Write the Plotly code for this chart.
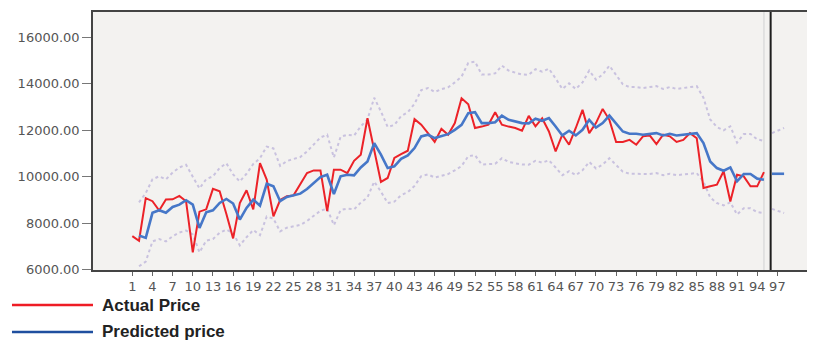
import plotly.graph_objects as go

# ---- data ----
index = list(range(1, 96))

actual_price = [7450, 7250, 9080, 8950, 8550, 9020, 9030, 9180, 8950, 6750,
                8500, 8600, 9480, 9380, 8400, 7350, 8870, 9420, 8600, 10590,
                9880, 8300, 9000, 9160, 9200, 9660, 10160, 10275, 10275, 8520,
                10305, 10305, 10160, 10690, 10950, 12520, 11100, 9780, 9950, 10810,
                10980, 11120, 12480, 12240, 11880, 11500, 12060, 11810, 12310, 13380,
                13120, 12100, 12160, 12240, 12780, 12240, 12160, 12100, 11980, 12620,
                12170, 12520, 11950, 11090, 11810, 11380, 12100, 12880, 11880, 12310,
                12920, 12450, 11500, 11500, 11590, 11380, 11740, 11780, 11410, 11810,
                11740, 11500, 11590, 11880, 11660, 9520, 9590, 9660, 10240, 8940,
                10090, 10020, 9590, 9590, 10200]

predicted_price = [None, 7470, 7370, 8450, 8560, 8450, 8700, 8800, 8990, 8800,
                   7800, 8475, 8560, 8875, 9045, 8850, 8160, 8660, 9020, 8760,
                   9700, 9590, 8950, 9130, 9190, 9275, 9475, 9735, 9990, 10090,
                   9260, 10020, 10090, 10060, 10400, 10660, 11450, 10950, 10375, 10450,
                   10775, 10920, 11235, 11735, 11810, 11665, 11765, 11835, 12020, 12235,
                   12735, 12780, 12310, 12310, 12350, 12635, 12450, 12380, 12310, 12300,
                   12500, 12410, 12525, 12165, 11780, 11980, 11780, 12020, 12450, 12120,
                   12310, 12635, 12310, 11950, 11850, 11850, 11810, 11835, 11880, 11780,
                   11850, 11780, 11810, 11835, 11880, 11450, 10660, 10375, 10260, 10405,
                   9805, 10120, 10120, 9920, 9875]

upper_bound = [None, 8900, 9300, 9890, 10020, 9890, 10180, 10400, 10520, 10000,
               9500, 9900, 10020, 10380, 10580, 10100, 9800, 10130, 10550, 10800,
               11300, 11220, 10470, 10680, 10750, 10850, 11090, 11390, 11690, 11810,
               10830, 11720, 11810, 11770, 12170, 12470, 13400, 12810, 12140, 12230,
               12610, 12780, 13140, 13730, 13820, 13650, 13770, 13850, 14060, 14310,
               14900, 14950, 14400, 14400, 14450, 14780, 14570, 14480, 14400, 14390,
               14630, 14520, 14650, 14230, 13780, 14020, 13780, 14060, 14570, 14180,
               14400, 14780, 14400, 13980, 13860, 13860, 13820, 13850, 13900, 13780,
               13860, 13780, 13820, 13850, 13900, 13400, 12470, 12140, 12000, 12170,
               11470, 11840, 11840, 11610, 11550]

lower_bound = [None, 6150, 6350, 7220, 7320, 7220, 7440, 7600, 7690, 7520,
               6750, 7250, 7320, 7590, 7730, 7570, 7050, 7400, 7710, 7490,
               8290, 8200, 7650, 7810, 7860, 7930, 8100, 8320, 8540, 8630,
               7920, 8570, 8630, 8600, 8890, 9110, 9790, 9360, 8870, 8930,
               9210, 9340, 9610, 10030, 10100, 9970, 10060, 10120, 10280, 10460,
               10890, 10930, 10530, 10530, 10560, 10800, 10640, 10580, 10530, 10520,
               10690, 10610, 10710, 10400, 10070, 10240, 10070, 10280, 10640, 10360,
               10530, 10800, 10530, 10220, 10130, 10130, 10100, 10120, 10160, 10070,
               10130, 10070, 10100, 10120, 10160, 9790, 9110, 8870, 8770, 8900,
               8380, 8650, 8650, 8480, 8440]

forecast_x = [96.2, 98.0]
forecast_pred = [10130, 10130]
forecast_upper = [11880, 12100]
forecast_lower = [8620, 8440]

forecast_start = 96
x_tick_vals = [1, 4, 7, 10, 13, 16, 19, 22, 25, 28, 31, 34, 37, 40, 43, 46, 49,
               52, 55, 58, 61, 64, 67, 70, 73, 76, 79, 82, 85, 88, 91, 94, 97]
y_tick_vals = [6000, 8000, 10000, 12000, 14000, 16000]

RED = "#ec2228"
BLUE = "#4677c8"
BOUND = "#c9c2df"

fig = go.Figure()
for yv in (upper_bound, lower_bound):
    fig.add_trace(go.Scatter(x=index, y=yv, mode="lines", showlegend=False,
                             line=dict(color=BOUND, width=2, dash="dot")))
for yv in (forecast_upper, forecast_lower):
    fig.add_trace(go.Scatter(x=forecast_x, y=yv, mode="lines", showlegend=False,
                             line=dict(color=BOUND, width=2, dash="dot")))
fig.add_trace(go.Scatter(x=index, y=actual_price, mode="lines", name="Actual Price",
                         showlegend=False, line=dict(color=RED, width=2)))
fig.add_trace(go.Scatter(x=index, y=predicted_price, mode="lines", name="Predicted price",
                         showlegend=False, line=dict(color=BLUE, width=2.6)))
fig.add_trace(go.Scatter(x=forecast_x, y=forecast_pred, mode="lines", showlegend=False,
                         line=dict(color=BLUE, width=2.6)))

# faint line at last observation and black forecast-origin line
fig.add_vline(x=index[-1], line=dict(color="#dcdcdc", width=1.5), layer="below")
fig.add_vline(x=forecast_start, line=dict(color="#1e1e1e", width=2))

# manual legend below the plot (plot area: 722 px wide, 258 px high)
legend_items = [("Actual Price", "#ee1c25", -0.1357), ("Predicted price", "#1f4f9f", -0.2403)]
for label, col, yp in legend_items:
    fig.add_shape(type="line", xref="paper", yref="paper", x0=-0.1122, x1=0.0, y0=yp, y1=yp,
                  line=dict(color=col, width=2.6))
    fig.add_annotation(text="<b>%s</b>" % label, xref="paper", yref="paper", x=0.0097, y=yp,
                       xanchor="left", yanchor="middle", showarrow=False,
                       font=dict(family="Liberation Sans, Arial, sans-serif", size=17, color="#222222"))

fig.update_layout(
    width=807, height=335,
    margin=dict(l=85, r=0, t=4, b=73),
    paper_bgcolor="white",
    plot_bgcolor="#f3f2f0",
    showlegend=False,
    font=dict(family="DejaVu Sans, sans-serif"),
)
fig.update_xaxes(range=[-4.85, 102.6], tickvals=x_tick_vals, ticks="outside", ticklen=4,
                 tickcolor="#666666", showgrid=False, zeroline=False, showline=True,
                 linecolor="#444444", linewidth=1.5, mirror=True,
                 tickfont=dict(size=13, color="#555555"), tickangle=0)
fig.update_yaxes(range=[5990, 17090], tickvals=y_tick_vals, tickformat=".2f", ticks="outside",
                 ticklen=9, tickcolor="#777777", showgrid=False, zeroline=False, showline=True,
                 linecolor="#444444", linewidth=1.5,
                 tickfont=dict(size=13, color="#555555"))

fig.write_html("out.html")
